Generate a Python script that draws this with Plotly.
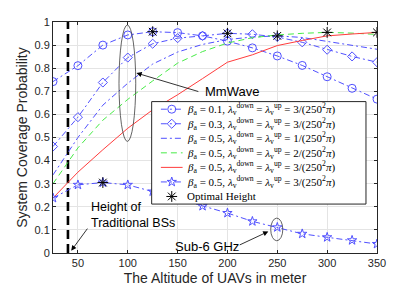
import numpy as np
import plotly.graph_objects as go

# ---------------- data ----------------
altitude = [25, 50, 75, 100, 125, 150, 175, 200, 225, 250, 275, 300, 325, 350]

mm_b01_l3 = [0.742, 0.811, 0.900, 0.944, 0.958, 0.954, 0.940, 0.917, 0.888, 0.853, 0.812, 0.763, 0.713, 0.666]
mm_b03_l3 = [0.461, 0.588, 0.738, 0.846, 0.906, 0.930, 0.940, 0.951, 0.947, 0.935, 0.912, 0.880, 0.851, 0.826]
mm_b05_l1 = [0.338, 0.500, 0.640, 0.735, 0.818, 0.870, 0.903, 0.924, 0.935, 0.940, 0.933, 0.916, 0.898, 0.882]
mm_b05_l2 = [0.300, 0.455, 0.575, 0.665, 0.745, 0.822, 0.872, 0.909, 0.932, 0.944, 0.951, 0.955, 0.952, 0.946]
mm_b05_l3 = [0.238, 0.350, 0.447, 0.540, 0.620, 0.685, 0.755, 0.826, 0.858, 0.898, 0.920, 0.940, 0.948, 0.955]
sub6_b05_l3 = [0.238, 0.295, 0.305, 0.295, 0.266, 0.235, 0.203, 0.173, 0.137, 0.111, 0.083, 0.068, 0.055, 0.039]

bs_height = 40
x_ticks = [50, 100, 150, 200, 250, 300, 350]
y_ticks = [0, 0.1, 0.2, 0.3, 0.4, 0.5, 0.6, 0.7, 0.8, 0.9, 1]
y_tick_text = ["0", "0.1", "0.2", "0.3", "0.4", "0.5", "0.6", "0.7", "0.8", "0.9", "1"]

labels = [
    "<i>β</i><sub>a</sub> = 0.1, <i>λ</i><sub>v</sub><sup>down</sup> = <i>λ</i><sub>v</sub><sup>up</sup> = 3/(250<sup>2</sup><i>π</i>)",
    "<i>β</i><sub>a</sub> = 0.3, <i>λ</i><sub>v</sub><sup>down</sup> = <i>λ</i><sub>v</sub><sup>up</sup> = 3/(250<sup>2</sup><i>π</i>)",
    "<i>β</i><sub>a</sub> = 0.5, <i>λ</i><sub>v</sub><sup>down</sup> = <i>λ</i><sub>v</sub><sup>up</sup> = 1/(250<sup>2</sup><i>π</i>)",
    "<i>β</i><sub>a</sub> = 0.5, <i>λ</i><sub>v</sub><sup>down</sup> = <i>λ</i><sub>v</sub><sup>up</sup> = 2/(250<sup>2</sup><i>π</i>)",
    "<i>β</i><sub>a</sub> = 0.5, <i>λ</i><sub>v</sub><sup>down</sup> = <i>λ</i><sub>v</sub><sup>up</sup> = 3/(250<sup>2</sup><i>π</i>)",
    "<i>β</i><sub>a</sub> = 0.5, <i>λ</i><sub>v</sub><sup>down</sup> = <i>λ</i><sub>v</sub><sup>up</sup> = 3/(250<sup>2</sup><i>π</i>)",
    "Optimal Height",
]

# ---------------- styles ----------------
BLUE = "rgb(80,80,255)"
GREEN = "rgb(70,235,70)"
RED = "rgb(255,60,60)"
SANS = "Liberation Sans, Arial, sans-serif"
SERIF = "Liberation Serif, DejaVu Serif, serif"
DASHDOT = "6px,3px,2px,3px"
DASH = "6px,4px"

series = [
    (mm_b01_l3, BLUE, DASHDOT, "circle-open", 8),
    (mm_b03_l3, BLUE, DASHDOT, "diamond-open", 7),
    (mm_b05_l1, BLUE, DASHDOT, None, 0),
    (mm_b05_l2, GREEN, DASH, None, 0),
    (mm_b05_l3, RED, "solid", None, 0),
    (sub6_b05_l3, BLUE, DASHDOT, "star-open", 7),
]
OPT_STYLE = dict(symbol="asterisk-open", size=9, color="black", line=dict(color="black", width=1))

fig = go.Figure()

# vertical line: height of traditional BSs
fig.add_trace(go.Scatter(
    x=[bs_height, bs_height], y=[0, 1], mode="lines",
    line=dict(color="black", width=2.6, dash="9px,5px"),
    showlegend=False, hoverinfo="skip"))

for (vals, col, dash, sym, size), lab in zip(series, labels):
    kw = dict(x=altitude, y=vals, name=lab, showlegend=False,
              line=dict(color=col, width=1, dash=dash))
    if sym:
        kw["mode"] = "lines+markers"
        kw["marker"] = dict(symbol=sym, size=size, color=col, line=dict(color=col, width=1))
    else:
        kw["mode"] = "lines"
    fig.add_trace(go.Scatter(**kw))

# optimal heights (argmax of each curve)
opt_x, opt_y = [], []
for vals, *_ in series:
    i = int(np.argmax(vals))
    opt_x.append(altitude[i])
    opt_y.append(vals[i])
fig.add_trace(go.Scatter(x=opt_x, y=opt_y, mode="markers", name=labels[6],
                         showlegend=False, marker=OPT_STYLE))

# ---------------- legend (drawn in an overlay frame, paper units) ----------------
LG_X0, LG_X1, LG_Y0, LG_Y1 = 0.3045, 0.966, 0.2118, 0.6554
LG_PAD = 0.0329
ROW_H = (LG_Y1 - LG_Y0 - 2 * LG_PAD) / 6
KEY_X0, KEY_X1, TXT_X = 0.333, 0.400, 0.406
AXC = "rgb(38,38,38)"

fig.add_trace(go.Scatter(
    x=[LG_X0, LG_X1, LG_X1, LG_X0, LG_X0], y=[LG_Y0, LG_Y0, LG_Y1, LG_Y1, LG_Y0],
    xaxis="x2", yaxis="y2", mode="lines", fill="toself", fillcolor="white",
    line=dict(color=AXC, width=1), showlegend=False, hoverinfo="skip"))

ann = []
for k in range(7):
    yk = LG_Y1 - LG_PAD - k * ROW_H
    if k < 6:
        vals, col, dash, sym, size = series[k]
        fig.add_trace(go.Scatter(x=[KEY_X0, KEY_X1], y=[yk, yk], xaxis="x2", yaxis="y2",
                                 mode="lines", line=dict(color=col, width=1, dash=dash),
                                 showlegend=False, hoverinfo="skip"))
        if sym:
            fig.add_trace(go.Scatter(x=[(KEY_X0 + KEY_X1) / 2], y=[yk], xaxis="x2", yaxis="y2",
                                     mode="markers",
                                     marker=dict(symbol=sym, size=size, color=col, line=dict(color=col, width=1)),
                                     showlegend=False, hoverinfo="skip"))
    else:
        fig.add_trace(go.Scatter(x=[(KEY_X0 + KEY_X1) / 2], y=[yk], xaxis="x2", yaxis="y2",
                                 mode="markers", marker=OPT_STYLE, showlegend=False, hoverinfo="skip"))
    ann.append(dict(x=TXT_X, y=yk, xref="paper", yref="paper", text=labels[k], showarrow=False,
                    xanchor="left", yanchor="middle", font=dict(family=SERIF, size=11, color="black")))

# ---------------- annotations ----------------
ann.append(dict(x=175.3, y=0.697, xref="x", yref="y", text="MmWave", showarrow=False,
                xanchor="left", yanchor="middle", font=dict(family=SANS, size=13, color="black")))
ann.append(dict(x=108.7, y=0.779, ax=172.3, ay=0.697, xref="x", yref="y", axref="x", ayref="y",
                text="", showarrow=True, arrowhead=2, arrowsize=1.3, arrowwidth=0.8, arrowcolor="black"))
ann.append(dict(x=145.2, y=0.026, xref="x", yref="y", text="Sub-6 GHz", showarrow=False,
                xanchor="left", yanchor="middle", font=dict(family=SANS, size=13, color="black")))
ann.append(dict(x=241.0, y=0.093, ax=210.8, ay=0.032, xref="x", yref="y", axref="x", ayref="y",
                text="", showarrow=True, arrowhead=2, arrowsize=1.3, arrowwidth=0.8, arrowcolor="black"))
ann.append(dict(x=60.7, y=0.166, xref="x", yref="y", text="Height of<br>Traditional BSs", showarrow=False,
                xanchor="left", yanchor="middle", align="left",
                font=dict(family=SANS, size=12.5, color="black")))
ann.append(dict(x=43.3, y=0.01, ax=60.6, ay=0.112, xref="x", yref="y", axref="x", ayref="y",
                text="", showarrow=True, arrowhead=2, arrowsize=1.3, arrowwidth=0.8, arrowcolor="black"))

shapes = [
    dict(type="circle", xref="x", yref="y", x0=91.2, x1=108.0, y0=0.483, y1=0.987,
         line=dict(color="rgb(60,60,60)", width=0.8)),
    dict(type="circle", xref="x", yref="y", x0=243.4, x1=255.5, y0=0.053, y1=0.151,
         line=dict(color="rgb(60,60,60)", width=0.8)),
]

# page body has an 8px margin: figure is 8px smaller and offset by the body margin
fig.update_layout(
    width=407, height=280,
    margin=dict(l=45, r=38, t=14, b=35, pad=0),
    paper_bgcolor="white", plot_bgcolor="white",
    font=dict(family=SANS, size=11, color=AXC),
    annotations=ann, shapes=shapes,
    showlegend=False,
    xaxis=dict(range=[25, 350], tickvals=x_ticks, ticks="inside", ticklen=3, tickcolor=AXC,
               showline=True, linecolor=AXC, linewidth=1, mirror="ticks",
               showgrid=True, gridcolor="rgb(228,228,228)", gridwidth=1, zeroline=False,
               tickfont=dict(family=SANS, size=11, color=AXC), automargin=False,
               title=dict(text="The Altitude of UAVs in meter", font=dict(family=SANS, size=14, color=AXC),
                          standoff=4)),
    yaxis=dict(range=[0, 1], tickvals=y_ticks, ticktext=y_tick_text, ticks="inside", ticklen=3,
               tickcolor=AXC, showline=True, linecolor=AXC, linewidth=1, mirror="ticks",
               showgrid=True, gridcolor="rgb(228,228,228)", gridwidth=1, zeroline=False,
               tickfont=dict(family=SANS, size=11, color=AXC), automargin=False,
               title=dict(text="System Coverage Probability", font=dict(family=SANS, size=14, color=AXC),
                          standoff=3)),
    xaxis2=dict(overlaying="x", anchor="y2", range=[0, 1], visible=False, fixedrange=True),
    yaxis2=dict(overlaying="y", anchor="x2", range=[0, 1], visible=False, fixedrange=True),
)

fig.write_html("out.html")
